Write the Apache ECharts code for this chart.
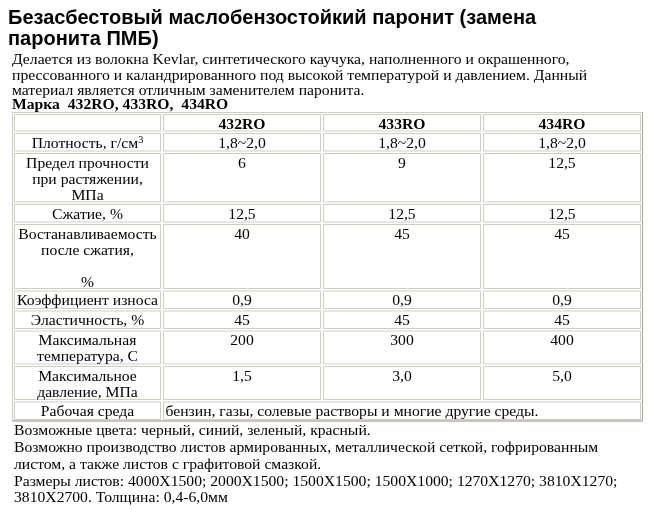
<!DOCTYPE html>
<html><head><meta charset="utf-8">
<script src="https://cdn.jsdelivr.net/npm/echarts@6/dist/echarts.min.js"></script>
<style>html,body{margin:0;padding:0;background:#fff}#c{width:656px;height:526px}</style>
</head><body><div id="c"></div>
<script>
// ---- data ----
const titleText = 'Безасбестовый маслобензостойкий паронит (замена\nпаронита ПМБ)';
const introLines = [
  'Делается из волокна Kevlar, синтетического каучука, наполненного и окрашенного,',
  'прессованного и каландрированного под высокой температурой и давлением. Данный',
  'материал является отличным заменителем паронита.'
];
const brandLine = 'Марка  432RO, 433RO,  434RO';
const grades = ['432RO', '433RO', '434RO'];
const propertyLabels = [
  'Плотность, г/см{sup|3}',
  'Предел прочности\nпри растяжении,\nМПа',
  'Сжатие, %',
  'Востанавливаемость\nпосле сжатия,\n\n%',
  'Коэффициент износа',
  'Эластичность, %',
  'Максимальная\nтемпература, С',
  'Максимальное\nдавление, МПа'
];
const values432RO = ['1,8~2,0', '6', '12,5', '40', '0,9', '45', '200', '1,5'];
const values433RO = ['1,8~2,0', '9', '12,5', '45', '0,9', '45', '300', '3,0'];
const values434RO = ['1,8~2,0', '12,5', '12,5', '45', '0,9', '45', '400', '5,0'];
const workingMediumLabel = 'Рабочая среда';
const workingMedium = 'бензин, газы, солевые растворы и многие другие среды.';
const footerLines = [
  'Возможные цвета: черный, синий, зеленый, красный.',
  'Возможно производство листов армированных, металлической сеткой, гофрированным',
  'листом, а также листов с графитовой смазкой.',
  'Размеры листов: 4000X1500; 2000X1500; 1500X1500; 1500X1000; 1270X1270; 3810X1270;',
  '3810X2700. Толщина: 0,4-6,0мм'
];

// ---- layout (styles, not data) ----
const LH = 15.5, PAD = 4.5, TEXT_LH = 16, SX = 1.08, FS = 14.5;
const colEdges = [0, 150, 310, 470, 631];
const SERIF = '"Liberation Serif", "Times New Roman", serif';
const SANS = '"Liberation Sans", Arial, sans-serif';
const BORDER = '#d1cdc1';

// build rows from data
const valueCols = [values432RO, values433RO, values434RO];
const rows = [];
rows.push({ cells: [{ c0: 0, c1: 1, text: '' }].concat(grades.map((g, i) => ({ c0: i + 1, c1: i + 2, text: g, bold: true }))) });
propertyLabels.forEach((lab, r) => {
  rows.push({ cells: [{ c0: 0, c1: 1, text: lab }].concat(valueCols.map((v, i) => ({ c0: i + 1, c1: i + 2, text: v[r] }))) });
});
rows.push({ cells: [{ c0: 0, c1: 1, text: workingMediumLabel }, { c0: 1, c1: 4, text: workingMedium, left: true }] });

const lineCount = t => t.split('\n').length;
const rowEdges = [0];
rows.forEach(row => {
  const n = Math.max.apply(null, row.cells.map(c => lineCount(c.text)));
  rowEdges.push(rowEdges[rowEdges.length - 1] + PAD + n * LH);
});
const totalH = rowEdges[rowEdges.length - 1];
const cells = [];
rows.forEach((row, r) => row.cells.forEach(c => cells.push(Object.assign({ r: r }, c))));
cells.push({ outer: true, c0: 0, c1: 4, r: 0, r1: rows.length, text: '' });

function textEl(text, x, y, opts) {
  return {
    type: 'text', x: x, y: y, scaleX: opts.sx || 1, silent: true,
    style: {
      text: text, x: 0, y: 0, align: 'left', verticalAlign: 'top',
      fontFamily: opts.family, fontSize: opts.size, fontWeight: opts.weight || 'normal',
      lineHeight: opts.lh, fill: '#000'
    }
  };
}

const chart = echarts.init(document.getElementById('c'), null, { renderer: 'canvas' });
chart.setOption({
  animation: false,
  backgroundColor: '#fff',
  graphic: { elements: [
    textEl(titleText, 8, 7.5, { family: SANS, size: 20, weight: 'bold', lh: 21 }),
    textEl(introLines.join('\n'), 12, 52.5, { family: SERIF, size: FS, lh: 15.5, sx: SX }),
    textEl(brandLine, 12, 97, { family: SERIF, size: FS, weight: 'bold', lh: 15.5, sx: SX }),
    textEl(footerLines.join('\n'), 14, 423, { family: SERIF, size: FS, lh: 16.8, sx: SX })
  ] },
  grid: { left: 12, top: 112, width: colEdges[colEdges.length - 1], height: totalH + 1 },
  xAxis: { type: 'value', min: 0, max: colEdges[colEdges.length - 1], show: false },
  yAxis: { type: 'value', min: 0, max: totalH + 1, inverse: true, show: false },
  series: [{
    type: 'custom',
    coordinateSystem: 'cartesian2d',
    clip: false,
    silent: true,
    data: cells.map(c => [(colEdges[c.c0] + colEdges[c.c1]) / 2, (rowEdges[c.r] + rowEdges[c.r1 != null ? c.r1 : c.r + 1]) / 2]),
    renderItem: function (params, api) {
      const c = cells[params.dataIndex];
      if (c.outer) {
        const a = api.coord([colEdges[c.c0], 0]);
        const b = api.coord([colEdges[c.c1], totalH + 1]);
        return { type: 'group', children: [
          { type: 'rect', shape: { x: a[0] + 0.5, y: a[1] + 0.5, width: b[0] - a[0] - 1, height: b[1] - a[1] - 1 },
            style: { fill: null, stroke: BORDER, lineWidth: 1 } },
          { type: 'polyline', shape: { points: [[b[0] - 0.5, a[1]], [b[0] - 0.5, b[1] - 0.5], [a[0], b[1] - 0.5]] },
            style: { fill: null, stroke: '#a8a49a', lineWidth: 1 } }
        ] };
      }
      const p0 = api.coord([colEdges[c.c0], rowEdges[c.r]]);
      const p1 = api.coord([colEdges[c.c1], rowEdges[c.r + 1]]);
      const x0 = p0[0] + (c.c0 === 0 ? 2.5 : 1.5), x1 = p1[0] - (c.c1 === 4 ? 2.5 : 1.5);
      const y0 = p0[1] + (c.r === 0 ? 2.5 : 1.5), y1 = p1[1] - 1;
      const children = [
        { type: 'rect', shape: { x: x0, y: y0, width: x1 - x0, height: y1 - y0 },
          style: { fill: '#fff', stroke: BORDER, lineWidth: 1 } }
      ];
      if (c.text) {
        children.push({ type: 'text',
          x: c.left ? x0 + 2 : (x0 + x1) / 2,
          y: y0 + 2.5,
          scaleX: SX,
          style: {
            text: c.text, x: 0, y: 0,
            align: c.left ? 'left' : 'center',
            verticalAlign: 'top',
            fontFamily: SERIF, fontSize: FS, lineHeight: TEXT_LH,
            fontWeight: c.bold ? 'bold' : 'normal',
            fill: '#000',
            rich: { sup: { fontFamily: SERIF, fontSize: 9.5, lineHeight: 10, padding: [0, 0, 7, 0], fill: '#000' } }
          } });
      }
      return { type: 'group', children: children };
    }
  }]
});
</script>
</body></html>
